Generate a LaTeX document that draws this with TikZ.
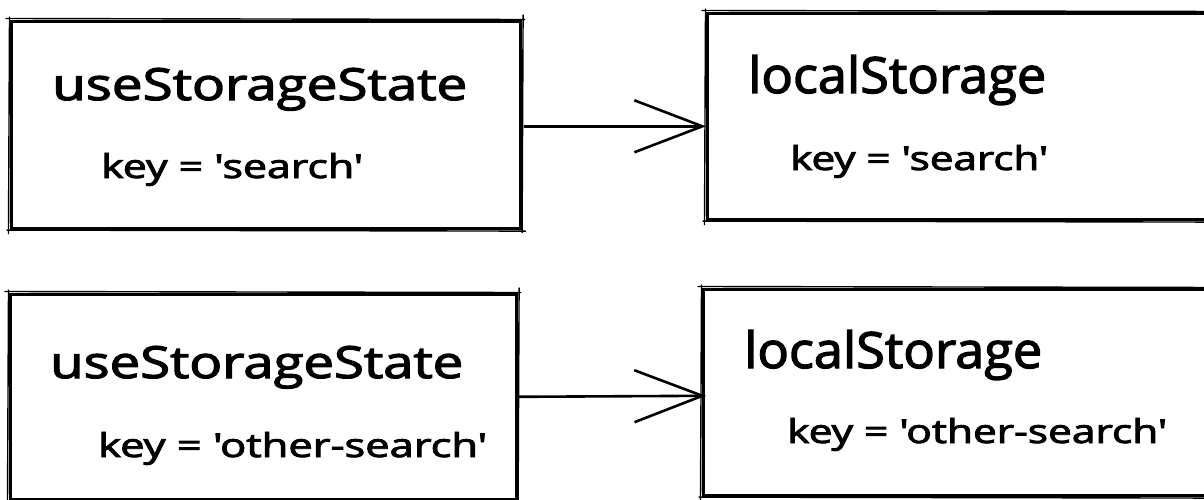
\documentclass[tikz,border=0pt]{standalone}
\usepackage{fontspec}
\newfontfamily\hand[FakeBold=2.5]{Open Sans}
\usetikzlibrary{arrows.meta}
\tikzset{
  box/.style={draw, line width=2.6pt, rectangle, inner sep=0pt, anchor=north west},
  sk/.style={line width=1.4pt, line cap=round},
  title/.style={anchor=base west, inner sep=0pt, font=\hand},
  keytext/.style={anchor=base west, inner sep=0pt, font=\hand},
  arr/.style={line width=2.6pt, line cap=round, -{Straight Barb[length=68pt,width=52pt,line width=2.6pt]}}
}
\newcommand\sketchit[1]{%
  \draw[sk] ([shift={(-4,-1.5)}]#1.north west) -- ([shift={(3,-0.5)}]#1.north east);
  \draw[sk] ([shift={(1.5,-5)}]#1.north east) -- ([shift={(0.5,3)}]#1.south east);
  \draw[sk] ([shift={(4,1.5)}]#1.south east) -- ([shift={(-3,0.5)}]#1.south west);
  \draw[sk] ([shift={(-1.5,4)}]#1.south west) -- ([shift={(-0.5,-3)}]#1.north west);
}
\begin{document}
\begin{tikzpicture}[x=1pt,y=-1pt]
\clip (0,0) rectangle (1204,500);
\fill[white] (0,0) rectangle (1204,500);
% boxes
\node[box, minimum width=509pt, minimum height=207pt] (A) at (10,20) {};
\node[box, minimum width=509pt, minimum height=206pt] (B) at (706,12) {};
\node[box, minimum width=506pt, minimum height=205pt] (C) at (9,293) {};
\node[box, minimum width=513pt, minimum height=206pt] (D) at (702,288) {};
\sketchit{A}\sketchit{B}\sketchit{C}\sketchit{D}
% texts
\node[title] (At) at (52,100) {\resizebox{415pt}{32pt}{useStorageState}};
\node[keytext] (Ak) at (101,178) {\resizebox{262pt}{25pt}{key = 'search'}};
\node[title] (Bt) at (748,93) {\resizebox{298pt}{38pt}{localStorage}};
\node[keytext] (Bk) at (790,170) {\resizebox{258pt}{25pt}{key = 'search'}};
\node[title] (Ct) at (50,378) {\resizebox{413pt}{32pt}{useStorageState}};
\node[keytext] (Ck) at (98,457) {\resizebox{389pt}{25pt}{key = 'other-search'}};
\node[title] (Dt) at (744,368) {\resizebox{298pt}{38pt}{localStorage}};
\node[keytext] (Dk) at (787,443) {\resizebox{380pt}{25pt}{key = 'other-search'}};
% arrows
\draw[arr] ([xshift=3pt,yshift=-1.5pt]A.east) -- ([yshift=-1.5pt]B.west |- A.east);
\draw[arr] ([xshift=1pt]C.east) -- ([xshift=4pt,yshift=1pt]D.west |- C.east);
\end{tikzpicture}
\end{document}
